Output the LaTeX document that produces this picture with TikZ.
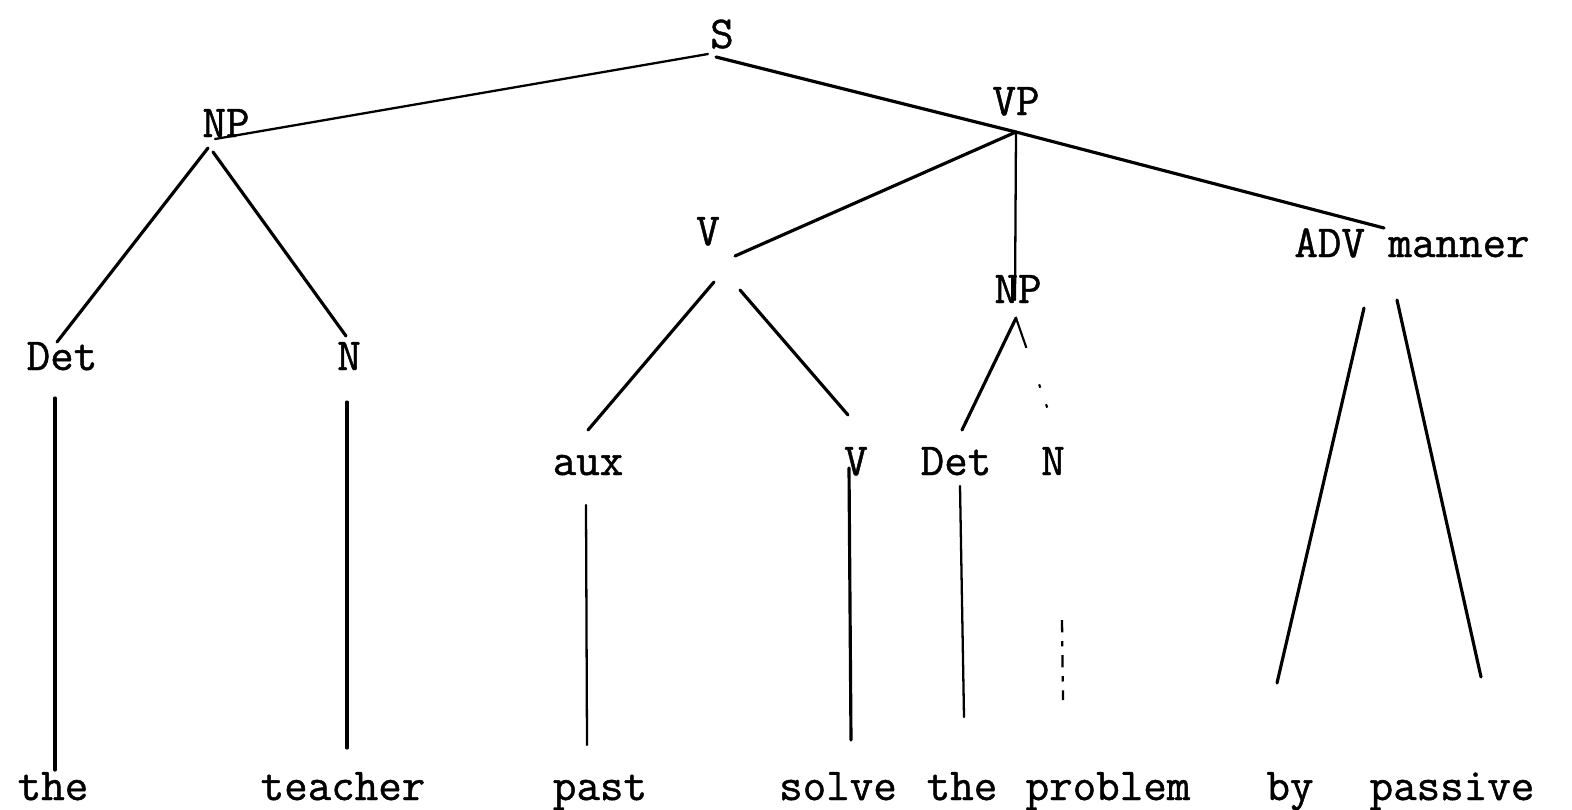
\documentclass[tikz,border=0pt]{standalone}
\usepackage{fontspec}
\newfontfamily\twfont{Latin Modern Mono}[FakeBold=1.0]
\begin{document}
\begin{tikzpicture}[x=0.02cm,y=-0.02cm,
  lbl/.style={anchor=base,inner sep=0pt,font=\twfont\fontsize{26}{30}\selectfont},
  edge/.style={line width=1.8pt,line cap=round},
  thinedge/.style={line width=1.3pt,line cap=round},
  faint/.style={line width=1.2pt,dash pattern=on 18pt off 22pt on 2pt off 10pt on 2pt off 60pt},
  faintv/.style={line width=1.3pt,dash pattern=on 7pt off 5pt on 3pt off 5pt}]
\useasboundingbox (0,0) rectangle (1572,809);
% labels
\node[lbl] (s)   at (722,48)  {S};
\node[lbl] (np)  at (226,137) {NP};
\node[lbl] (vp)  at (1016,115) {VP};
\node[lbl] (v)   at (708,245) {V};
\node[lbl] (np2) at (1018,303) {NP};
\node[lbl] (adv) at (1412,257) {ADV manner};
\node[lbl] (det) at (62,370)  {Det};
\node[lbl] (n)   at (349,370) {N};
\node[lbl] (aux) at (588,475) {aux};
\node[lbl] (v2)  at (856,475) {V};
\node[lbl] (det2) at (956,475) {Det};
\node[lbl] (n2)  at (1053,475) {N};
\node[lbl] (w1) at (53,800)   {the};
\node[lbl] (w2) at (343,800)  {teacher};
\node[lbl] (w3) at (600,800)  {past};
\node[lbl] (w4) at (838,800)  {solve};
\node[lbl] (w5) at (962,800)  {the};
\node[lbl] (w6) at (1108,800) {problem};
\node[lbl] (w7) at (1290,800) {by};
\node[lbl] (w8) at (1452,800) {passive};
% connector end points
\coordinate (sL) at (708,54);
\coordinate (sR) at (716,57);
\coordinate (npT) at (215,139);
\coordinate (npB1) at (208,148);
\coordinate (npB2) at (213,152);
\coordinate (detT) at (57,342);
\coordinate (nT) at (346,336);
\coordinate (vpJ) at (1016,132);
\coordinate (vT) at (735,256);
\coordinate (np2T) at (1015,300);
\coordinate (np2B) at (1016,318);
\coordinate (advT) at (1384,228);
\coordinate (vB1) at (714,282);
\coordinate (vB2) at (740,290);
\coordinate (auxT) at (588,430);
\coordinate (v2T) at (848,415);
\coordinate (det2T) at (962,430);
\coordinate (n2T) at (1055,430);
\coordinate (advB1) at (1364,308);
\coordinate (advB2) at (1397,300);
\coordinate (w7T) at (1277,683);
\coordinate (w8T) at (1481,677);
\coordinate (detB) at (55,398);  \coordinate (w1T) at (55,770);
\coordinate (nB) at (347,402);   \coordinate (w2T) at (347,748);
\coordinate (auxB) at (586,505); \coordinate (w3T) at (587,745);
\coordinate (v2B) at (849,468);  \coordinate (w4T) at (851,740);
\coordinate (det2B) at (960,486); \coordinate (w5T) at (964,717);
\coordinate (n2B) at (1062,620); \coordinate (w6T) at (1063,700);
% connectors
\draw[thinedge] (sL) -- (npT);
\draw[edge] (sR) -- (vpJ);
\draw[edge] (npB1) -- (detT);
\draw[edge] (npB2) -- (nT);
\draw[edge] (vpJ) -- (vT);
\draw[thinedge] (vpJ) -- (np2T);
\draw[edge] (vpJ) -- (advT);
\draw[edge] (vB1) -- (auxT);
\draw[edge] (vB2) -- (v2T);
\draw[edge] (np2B) -- (det2T);
\draw[faint] (np2B) -- (n2T);
\draw[edge] (advB1) -- (w7T);
\draw[edge] (advB2) -- (w8T);
\draw[edge] (detB) -- (w1T);
\draw[edge] (nB) -- (w2T);
\draw[thinedge] (auxB) -- (w3T);
\draw[edge] (v2B) -- (w4T);
\draw[thinedge] (det2B) -- (w5T);
\draw[faintv] (n2B) -- (w6T);
\end{tikzpicture}
\end{document}
